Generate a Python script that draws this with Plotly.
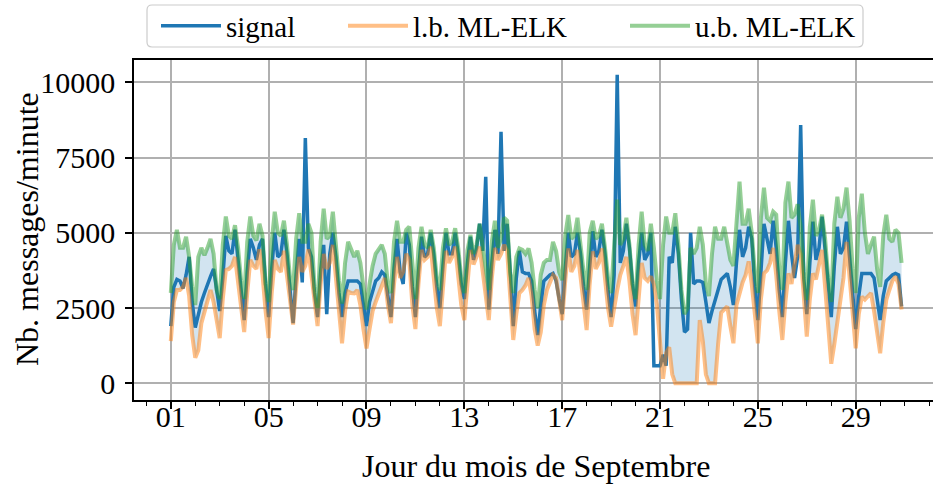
import plotly.graph_objects as go
import pandas as pd

# 3-hourly samples (00,03,06,09,12,15,18,21 h) from 1 to 30 September
signal = [
    1900, 3200, 3450, 3400, 3150, 3600, 4200, 2700,
    1850, 2300, 2700, 3000, 3300, 3550, 3800, 3100,
    2400, 3500, 4900, 4400, 4300, 5100, 4100, 3000,
    2100, 3700, 4800, 4500, 4100, 4600, 4800, 3300,
    2200, 3800, 5000, 4200, 4300, 5100, 4300, 3100,
    2000, 3600, 4800, 3350, 8150, 4500, 4200, 3000,
    2200, 3700, 4600, 2300, 4300, 5000, 4200, 3000,
    2200, 3000, 3400, 3400, 3400, 3400, 3300, 2500,
    1900, 2700, 3100, 3400, 3500, 3700, 3600, 2800,
    2200, 3800, 4800, 3700, 3300, 5000, 4600, 3200,
    2200, 3700, 4870, 4200, 4300, 5000, 4300, 3200,
    2500, 3900, 5000, 4300, 4300, 5000, 4300, 3300,
    2800, 4000, 4870, 4100, 4500, 5300, 4400, 6860,
    2450, 4000, 5100, 4300, 8360, 4400, 5300, 3700,
    1900, 3500, 4400, 3700, 3650, 3650, 3400, 2400,
    1600, 2600, 3400, 3500, 3600, 3650, 3400, 2800,
    2300, 3800, 5000, 4200, 4300, 5000, 4300, 3200,
    2450, 3900, 5050, 4200, 4400, 5100, 4300, 3100,
    2200, 3600, 10250, 4000, 4400, 5300, 4500, 3300,
    2550, 4000, 5000, 4100, 4300, 5000, 585, 585,
    585, 950, 585, 4200, 4000, 5200, 4300, 2800,
    1700, 1800, 5000, 3300, 3400, 3400, 3350, 2700,
    2000, 2400, 2750, 3200, 3450, 3550, 3650, 3200,
    2600, 4000, 5100, 4200, 4500, 5200, 4800, 3200,
    2100, 3700, 5300, 4800, 4300, 5400, 4500, 3100,
    2200, 4000, 5400, 4300, 3500, 4200, 8580, 3500,
    2300, 4000, 5370, 4100, 4500, 5540, 4400, 3200,
    2200, 3900, 5200, 4300, 4500, 5370, 4300, 3000,
    1800, 2900, 3650, 3650, 3650, 3650, 3500, 2800,
    2100, 2900, 3400, 3500, 3600, 3650, 3600, 2550,
]

upper = [
    3000, 4600, 5100, 4500, 4500, 4870, 4200, 3200,
    2600, 4200, 4500, 4250, 4500, 4800, 4300, 3100,
    2800, 4600, 5540, 4900, 4800, 5250, 4500, 3400,
    2800, 4700, 5540, 4900, 4750, 5300, 4900, 3300,
    2700, 4700, 5700, 5000, 4900, 5400, 4600, 3500,
    3100, 4800, 5650, 4700, 4700, 5300, 5000, 3200,
    2500, 4700, 5800, 4800, 4900, 5700, 4600, 3400,
    2650, 4000, 4700, 4400, 4200, 4400, 4000, 3200,
    2450, 3300, 3900, 4300, 4450, 4600, 4300, 3300,
    3000, 4700, 5400, 4700, 4700, 5100, 5200, 3800,
    2800, 4500, 5200, 4600, 4500, 5100, 4500, 3500,
    3100, 4500, 5150, 4600, 4700, 5150, 4500, 3500,
    3000, 4400, 4930, 4300, 4600, 5300, 4600, 3700,
    3100, 4700, 5400, 4500, 4800, 5500, 5400, 3700,
    3000, 4200, 4480, 4430, 4300, 4480, 4000, 3100,
    2500, 3600, 4000, 4100, 4100, 4700, 4400, 3700,
    3430, 4900, 5590, 4800, 4900, 5500, 4600, 3700,
    3100, 5000, 5400, 4800, 4900, 5300, 4500, 3500,
    3000, 4500, 6100, 4600, 4800, 5500, 4600, 3300,
    2800, 4600, 5700, 4600, 4400, 5300, 4500, 3400,
    2800, 4600, 5540, 5000, 5000, 5650, 4600, 3100,
    2300, 2500, 4500, 4300, 4500, 5200, 4600, 3300,
    2900, 4300, 5200, 4800, 4800, 5200, 4600, 4100,
    3900, 5500, 6700, 5300, 5300, 5800, 5000, 3700,
    3000, 5500, 6500, 5500, 5400, 5700, 5600, 3800,
    3100, 6000, 6700, 5500, 5600, 5950, 5200, 3700,
    2770, 5200, 6100, 4900, 5100, 5600, 4800, 3500,
    2700, 5300, 6200, 5500, 5800, 6500, 5400, 3800,
    3000, 5500, 6300, 5000, 4300, 4600, 4870, 3800,
    3200, 4900, 5600, 4800, 4700, 5100, 5000, 4000,
]

lower = [
    1400, 2700, 3100, 3100, 3200, 3500, 2900, 1600,
    850, 1100, 2000, 2400, 2800, 3100, 2700, 2000,
    1500, 2800, 3760, 3800, 3900, 4200, 3400, 2400,
    1700, 3000, 4100, 3900, 3800, 4450, 3600, 2400,
    1500, 3000, 4100, 3800, 3700, 4400, 3500, 2600,
    1950, 3200, 4200, 3700, 3900, 4450, 3500, 2600,
    1900, 3300, 4300, 3800, 4000, 4600, 3500, 2200,
    1330, 2400, 3050, 3000, 2990, 3100, 2600, 1800,
    1160, 1800, 2400, 2700, 3000, 3300, 3500, 2600,
    2000, 3300, 4200, 3500, 3700, 4300, 4100, 2600,
    1800, 3300, 4430, 4100, 4200, 4540, 3600, 2500,
    1900, 3300, 4400, 4000, 4200, 4540, 3600, 2600,
    2100, 3400, 4430, 3950, 4200, 4540, 3700, 2700,
    2100, 3500, 4500, 4100, 4300, 4600, 4400, 2900,
    1440, 2300, 3000, 3100, 3250, 3500, 2900, 1800,
    1250, 1700, 2600, 3100, 3400, 3600, 3500, 2700,
    2100, 3400, 4480, 3700, 3900, 4430, 3500, 2500,
    1770, 3300, 4380, 3800, 4000, 4480, 3500, 2500,
    1880, 2600, 3100, 3600, 3900, 4200, 3400, 2300,
    1600, 3000, 4000, 3500, 3400, 3550, 3300, 2600,
    1440, 150, 1000, 1200, 300, 0, 0, 0,
    0, 0, 0, 0, 0, 2100, 1400, 300,
    0, 0, 0, 1300, 2350, 2450, 2550, 1900,
    1330, 2600, 3000, 3350, 3600, 4050, 3300, 2300,
    1330, 2800, 3650, 3750, 4000, 4500, 3600, 2400,
    1440, 2700, 3650, 3300, 4000, 4600, 4300, 2800,
    1550, 2800, 3650, 3450, 3900, 4430, 3200, 1800,
    650, 1300, 2000, 2800, 3500, 4700, 3400, 2200,
    1160, 2300, 2880, 2780, 2900, 3000, 2400, 1600,
    1000, 2000, 2770, 3100, 3400, 3550, 3300, 2450,
]

names = ["signal", "l.b. ML-ELK", "u.b. ML-ELK"]
y_ticks = [0, 2500, 5000, 7500, 10000]
x_title = "Jour du mois de Septembre"
y_title = "Nb. messages/minute"

times = pd.date_range("2018-09-01 00:00", periods=len(signal), freq="3h")

FONT = "Liberation Serif"
BLUE = "#1f77b4"
ORANGE = "rgba(255,127,14,0.5)"
GREEN = "rgba(44,160,44,0.5)"

fig = go.Figure()
fig.add_trace(go.Scatter(x=times, y=lower, mode="lines", line=dict(width=0),
                         showlegend=False, hoverinfo="skip"))
fig.add_trace(go.Scatter(x=times, y=upper, mode="lines", line=dict(width=0),
                         fill="tonexty", fillcolor="rgba(31,119,180,0.2)",
                         showlegend=False, hoverinfo="skip"))
fig.add_trace(go.Scatter(x=times, y=signal, mode="lines", name=names[0],
                         line=dict(color=BLUE, width=3.5), legend="legend"))
fig.add_trace(go.Scatter(x=times, y=lower, mode="lines", name=names[1],
                         line=dict(color=ORANGE, width=4), legend="legend2"))
fig.add_trace(go.Scatter(x=times, y=upper, mode="lines", name=names[2],
                         line=dict(color=GREEN, width=4), legend="legend3"))

# plot area geometry (pixels)
L, R, T, B = 134, 0, 60, 87
W, H = 933, 487
pw, ph = W - L - R, H - T - B


def px(xp):
    return (xp - L) / pw


def py(yp):
    return (H - B - yp) / ph


leg_common = dict(bgcolor="rgba(0,0,0,0)", borderwidth=0,
                  font=dict(family=FONT, size=29, color="black"),
                  xanchor="left", yanchor="middle", y=py(26), itemwidth=60)

# legend frame with rounded corners
x0, x1, y0, y1, r = 147, 863, 5, 47, 5
path = (f"M {px(x0 + r)},{py(y0)} L {px(x1 - r)},{py(y0)} Q {px(x1)},{py(y0)} {px(x1)},{py(y0 + r)} "
        f"L {px(x1)},{py(y1 - r)} Q {px(x1)},{py(y1)} {px(x1 - r)},{py(y1)} "
        f"L {px(x0 + r)},{py(y1)} Q {px(x0)},{py(y1)} {px(x0)},{py(y1 - r)} "
        f"L {px(x0)},{py(y0 + r)} Q {px(x0)},{py(y0)} {px(x0 + r)},{py(y0)} Z")

fig.update_layout(
    width=W, height=H,
    margin=dict(l=L, r=R, t=T, b=B, pad=0, autoexpand=False),
    paper_bgcolor="white", plot_bgcolor="white",
    font=dict(family=FONT, size=30, color="black"),
    legend=dict(x=px(156), **leg_common),
    legend2=dict(x=px(343), **leg_common),
    legend3=dict(x=px(625), **leg_common),
    shapes=[dict(type="path", path=path, xref="paper", yref="paper",
                 line=dict(color="#cccccc", width=1.2), fillcolor="white", layer="below")],
    annotations=[
        dict(text=x_title, xref="paper", yref="paper", x=px(536), y=py(466),
             xanchor="center", yanchor="middle", showarrow=False,
             font=dict(family=FONT, size=32)),
        dict(text=y_title, xref="paper", yref="paper", x=px(27), y=py(229),
             xanchor="center", yanchor="middle", showarrow=False, textangle=-90,
             font=dict(family=FONT, size=32)),
    ],
    xaxis=dict(
        type="date",
        range=["2018-08-30 11:54", "2018-10-02 03:50"],
        tick0="2018-09-01", dtick=4 * 86400000, tickformat="%d",
        ticks="outside", ticklen=7, tickwidth=1.5, tickcolor="black",
        showline=True, linecolor="black", linewidth=1.5, mirror=True,
        showgrid=True, gridcolor="#b0b0b0", gridwidth=1.5, zeroline=False,
        minor=dict(dtick=86400000, ticks="outside", ticklen=4, tickwidth=1.2,
                   tickcolor="black", showgrid=False),
        tickfont=dict(family=FONT, size=30),
        ticklabelstandoff=-18,
    ),
    yaxis=dict(
        range=[-555, 10741],
        tickvals=y_ticks, ticktext=[str(v) for v in y_ticks],
        ticks="outside", ticklen=7, tickwidth=1.5, tickcolor="black",
        showline=True, linecolor="black", linewidth=1.5, mirror=False,
        showgrid=True, gridcolor="#b0b0b0", gridwidth=1.5, zeroline=False,
        tickfont=dict(family=FONT, size=30),
        ticklabelstandoff=4,
    ),
)

fig.write_html("out.html", config={"displayModeBar": False},
               post_script="document.body.style.margin='0px';")
